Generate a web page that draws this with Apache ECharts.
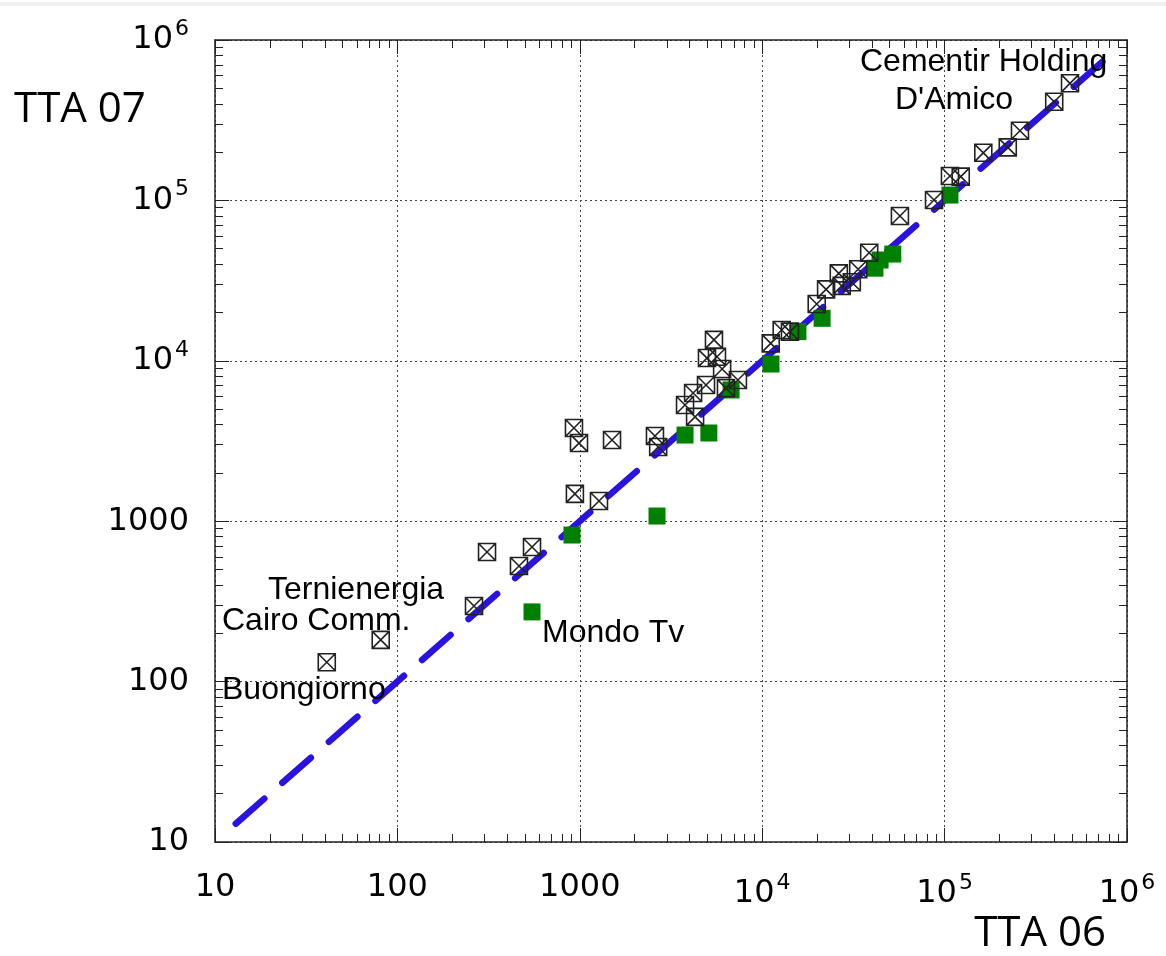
<!DOCTYPE html>
<html>
<head>
<meta charset="utf-8">
<script src="https://cdn.jsdelivr.net/npm/echarts@6/dist/echarts.min.js"></script>
<style>html,body{margin:0;padding:0;background:#fff;}#chart{width:1166px;height:956px;}</style>
</head>
<body>
<div id="chart"></div>
<script>
// Axis range (log decades)
const axisMin = 10;
const axisMax = 1e6;
const xTitle = 'TTA 06';
const yTitle = 'TTA 07';

// Open-square-with-cross markers: [TTA 06, TTA 07]
const crossPoints = [
  [41, 132], [81, 182], [263, 296], [310, 643], [464, 526], [547, 690],
  [929, 3810], [990, 3070], [940, 1480], [1274, 1336], [1502, 3210],
  [2583, 3400], [2690, 2900], [3775, 5300], [4180, 6300], [4285, 4470],
  [4920, 7060], [4980, 10400], [5440, 13500], [5650, 10600], [6030, 8890],
  [6330, 6760], [7360, 7590],
  [11140, 12850], [12790, 15560], [14200, 15200], [19900, 22600],
  [22400, 27900], [26300, 35100], [27300, 29300], [31000, 30900],
  [33600, 37200], [38600, 47200], [56900, 80000], [87500, 100500],
  [107000, 142000], [122600, 140700], [163000, 198000], [222000, 214000],
  [259000, 272000], [399000, 412000], [487000, 537000]
];

// Filled green squares: [TTA 06, TTA 07]
const greenPoints = [
  [906, 820], [547, 272], [2650, 1077], [3775, 3445], [5100, 3548],
  [6750, 6580], [11170, 9550], [15700, 15200], [21300, 18400],
  [41500, 37800], [44300, 42500], [52000, 46300], [107000, 108000]
];

// Reference line y = x
const diagonal = [[13, 13], [800000, 800000]];

// Company annotations
const annotations = [
  {text: 'Cementir Holding', x: 860, y: 62},
  {text: "D'Amico", x: 895, y: 100},
  {text: 'Ternienergia', x: 268, y: 590},
  {text: 'Cairo Comm.', x: 222, y: 621},
  {text: 'Buongiorno', x: 222, y: 690},
  {text: 'Mondo Tv', x: 542, y: 633}
];

function fmt(v) {
  const e = Math.round(Math.log10(v));
  if (e <= 3) return '{b|' + Math.round(v) + '}';
  return '{b|10}{s|' + e + '}';
}
const labelRich = {
  b: {fontSize: 32, fontFamily: 'DejaVu Sans', color: '#000'},
  s: {fontSize: 22, fontFamily: 'DejaVu Sans', color: '#000', padding: [0, 0, 22, 2]}
};

function mkAxis(pos, showLabels, showGrid) {
  return {
    type: 'log', logBase: 10, min: axisMin, max: axisMax, position: pos,
    axisLine: {show: true, onZero: false, lineStyle: {color: '#222', width: 1.5}},
    axisTick: {show: true, inside: true, length: 14, lineStyle: {color: '#222', width: 1}},
    minorTick: {show: true, splitNumber: 9, length: 8, lineStyle: {color: '#222', width: 1}},
    splitLine: {show: showGrid, lineStyle: {color: '#444', type: [2, 3], width: 1}},
    minorSplitLine: {show: false},
    axisLabel: {show: showLabels, formatter: fmt, rich: labelRich, margin: 30},
  };
}

const chart = echarts.init(document.getElementById('chart'), null, {renderer: 'canvas'});
const xa0 = mkAxis('bottom', true, true);
const xa1 = mkAxis('top', false, false);
const ya0 = mkAxis('left', true, true);
const ya1 = mkAxis('right', false, false);
ya0.axisLabel.margin = 26;

chart.setOption({
  backgroundColor: '#fff',
  animation: false,
  grid: {left: 215, top: 40, right: 39, bottom: 114, containLabel: false},
  xAxis: [xa0, xa1],
  yAxis: [ya0, ya1],
  series: [
    {
      type: 'line', data: diagonal, xAxisIndex: 0, yAxisIndex: 0,
      symbol: 'none', z: 1,
      lineStyle: {color: '#2a12e0', width: 6.5, type: [38, 24], cap: 'round'}
    },
    {
      type: 'scatter', data: greenPoints, symbol: 'rect', symbolSize: 17, z: 2,
      itemStyle: {color: '#008000', opacity: 1}
    },
    {
      type: 'scatter', data: crossPoints, z: 3,
      symbol: 'path://M0,0L10,0L10,10L0,10Z M0,0L10,10 M10,0L0,10',
      symbolSize: 17,
      itemStyle: {color: 'rgba(255,255,255,0)', borderColor: '#222', borderWidth: 1.6, opacity: 1}
    }
  ],
  graphic: [
    {type: 'rect', left: 0, top: 2, shape: {width: 1166, height: 4}, style: {fill: '#efefef'}},
    {type: 'text', x: 14, y: 110, style: {text: yTitle, font: '42px "Open Sans"', fill: '#000', verticalAlign: 'middle'}},
    {type: 'text', x: 1106, y: 934, style: {text: xTitle, font: '42px "Open Sans"', fill: '#000', align: 'right', verticalAlign: 'middle'}}
  ].concat(annotations.map(a => ({
    type: 'text', x: a.x, y: a.y, z: 10,
    style: {text: a.text, font: '32px "Liberation Sans"', fill: '#000', verticalAlign: 'middle'}
  })))
});
</script>
</body>
</html>
